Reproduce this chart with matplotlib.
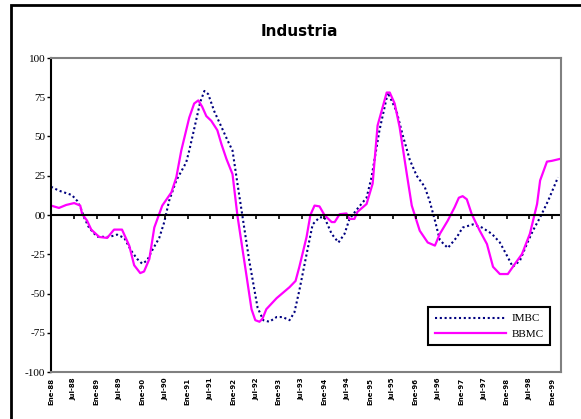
import numpy as np
import matplotlib.pyplot as plt
from matplotlib.patches import Rectangle

# meses desde Ene-88
imbc_mes = [0, 2.1, 5.5, 6.9, 7.9, 8.7, 10.0, 12.1, 15.3, 17.4, 19.3, 21.1, 22.7, 24.0, 25.3,
            26.6, 28.5, 29.8, 31.1, 33.0, 35.6, 36.4, 38.0, 39.3, 40.4, 41.4, 43.0, 44.9,
            46.4, 47.8, 49.1, 50.4, 52.2, 54.4, 55.9, 57.5, 59.4, 61.0, 62.8, 64.1, 65.4,
            67.3, 68.9, 70.7, 72.0, 73.9, 75.7, 77.3, 78.6, 80.7, 83.1, 84.4, 86.5, 88.7,
            91.0, 92.6, 94.5, 96.3, 98.4, 99.7, 101.1, 102.4, 104.5, 106.9, 108.4, 111.1,
            113.5, 116.1, 118.2, 120.1, 121.6, 123.5, 125.3, 126.9, 128.8, 130.9, 133.5]
imbc_val = [18, 15.5, 12.7, 9, 4, -1.5, -8, -13.8, -14, -12.5, -14.6, -22.7, -28, -31, -29,
            -22.7, -14.6, -4.7, 9, 22, 33.5, 41, 58, 72, 79, 77, 66, 56,
            48, 41, 20, -0.5, -29, -59, -67, -68, -65, -65, -67, -62, -48,
            -25, -6, -1.5, -1.5, -12, -17.5, -12, -2.5, 4, 11, 24, 54, 78,
            66, 51, 35, 25, 18, 9, -3.5, -16, -21, -14, -8, -6,
            -8, -12, -17.5, -26, -33, -29, -18.5, -10, -1.5, 9, 24]

bbmc_mes = [0, 2.1, 4.0, 6.1, 7.7, 8.2, 9.5, 10.6, 12.7, 14.8, 16.6, 18.7, 20.6, 21.9, 23.5,
            24.5, 25.9, 27.2, 29.3, 31.7, 33.0, 34.3, 35.4, 36.4, 37.7, 38.8, 39.8, 40.9,
            42.2, 43.8, 44.9, 46.2, 47.8, 49.1, 51.5, 52.8, 53.8, 54.9, 55.7, 56.7, 59.4,
            62.8, 64.4, 65.4, 67.3, 68.3, 69.4, 70.7, 72.0, 73.9, 74.7, 76.0, 77.8, 78.6,
            79.9, 80.7, 83.1, 84.7, 86.0, 88.4, 89.2, 90.5, 91.8, 93.7, 95.0, 97.1, 99.2,
            101.1, 102.4, 104.5, 106.3, 107.4, 108.4, 109.5, 110.8, 112.9, 114.8, 116.4,
            118.2, 120.3, 122.2, 124.0, 126.1, 128.0, 128.8, 130.6, 131.9, 133.8]
bbmc_val = [6, 4.5, 6.4, 7.6, 6, 0.6, -3.6, -9.3, -14, -14.6, -9.3, -9.3, -19.5, -32, -37,
            -36, -28, -8, 6, 14.4, 24, 41, 52, 62, 71, 73, 69, 63,
            60, 54, 45, 35.7, 26, -0.5, -39, -60, -67, -68, -66, -60, -53,
            -46, -42, -33, -14, 0, 6, 5.5, 0, -4.5, -4.5, 0.5, 1, -2.5,
            -2.5, 2, 7, 20, 57, 78, 78, 71, 56, 26, 6, -10, -17.5,
            -19.5, -12, -3.5, 5, 11, 12, 10, 0.5, -10, -18.5, -33,
            -37.6, -37.6, -31, -25, -12, 7, 22, 34, 34.5, 35.6]

etiquetas = []
for a in range(88, 100):
    etiquetas += ['Ene-%02d' % a, 'Jul-%02d' % a]
etiquetas = etiquetas[:23]
pos_etiq = np.arange(23) * 6

y_ticks = [100, 75, 50, 25, 0, -25, -50, -75, -100]
y_labels = ['100', '75', '50', '25', '00', '-25', '-50', '-75', '-100']

fig = plt.figure(figsize=(5.81, 4.19), dpi=100)
fig.patches.append(Rectangle((11 / 581, -0.1), 1.2, 1 - 5 / 419 + 0.1,
                             transform=fig.transFigure, fill=False,
                             edgecolor='black', linewidth=2))
ax = fig.add_axes([51 / 581, 1 - 372 / 419, 510 / 581, 314 / 419])

ax.plot(imbc_mes, imbc_val, color='#000080', linestyle=(0, (1, 1.3)), linewidth=1.5, label='IMBC')
ax.plot(bbmc_mes, bbmc_val, color='#FF00FF', linewidth=1.6, label='BBMC')
ax.axhline(0, color='black', linewidth=1.5)
ax.plot(pos_etiq, np.zeros(len(pos_etiq)), linestyle='none', marker=3,
        markersize=3, markeredgewidth=1.2, color='black')

ax.set_xlim(0, 134.3)
ax.set_ylim(-100, 100)
ax.set_yticks(y_ticks)
ax.set_yticklabels(y_labels, fontfamily='Liberation Serif', fontsize=8)
ax.set_xticks(pos_etiq)
ax.set_xticklabels(etiquetas, rotation=90, fontsize=5, fontweight='bold')
ax.tick_params(axis='x', length=0, pad=4)
ax.tick_params(axis='y', length=3, width=1, pad=1)

for s in ['top', 'right', 'bottom']:
    ax.spines[s].set_color('#808080')
    ax.spines[s].set_linewidth(1.5)
ax.spines['left'].set_color('black')
ax.spines['left'].set_linewidth(1.5)

fig.text(299 / 581, 1 - 31 / 419, 'Industria', ha='center', va='center',
         fontsize=11, fontweight='bold')

leg = ax.legend(loc='lower right', bbox_to_anchor=(556 / 581, 1 - 351 / 419),
                bbox_transform=fig.transFigure, fancybox=False, framealpha=1,
                edgecolor='black', borderpad=0.6, handlelength=6.4, handletextpad=0.5,
                prop={'family': 'Liberation Serif', 'size': 8}, labelspacing=0.5)
leg.get_frame().set_linewidth(1.5)

fig.savefig('out.png', dpi=100)
